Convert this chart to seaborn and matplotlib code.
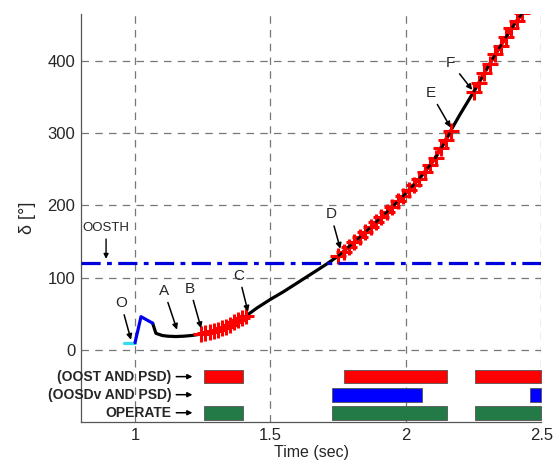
import numpy as np
import pandas as pd
import matplotlib
matplotlib.use("Agg")
import matplotlib.pyplot as plt
import seaborn as sns

sns.set_style("white")
plt.rcParams['font.family'] = ['Liberation Sans', 'DejaVu Sans']

# ---- data ----
cyan_t = [0.96, 1.0]
cyan_d = [10, 10]
blue_t = [1.0, 1.022, 1.065]
blue_d = [10, 46, 37]
black_t = [1.065, 1.077, 1.10, 1.12, 1.15, 1.18, 1.21, 1.245, 1.30, 1.35, 1.41,
           1.45, 1.50, 1.55, 1.60, 1.65, 1.70, 1.75, 1.80, 1.85, 1.90, 1.95,
           2.00, 2.05, 2.10, 2.165, 2.20, 2.25, 2.30, 2.35, 2.40, 2.43]
black_d = [37, 23, 20, 19, 18.5, 19, 20, 22, 28, 36, 47,
           58, 70, 81, 93, 105, 117, 130, 146, 163, 180, 198,
           217, 237, 261, 303, 326, 357, 390, 421, 451, 466]
red1_t = [1.245, 1.26, 1.275, 1.29, 1.305, 1.32, 1.335, 1.35, 1.365, 1.38, 1.395, 1.41]
red1_d = [22, 23, 25, 26, 28, 30, 32, 35, 38, 41, 44, 47]
red2_t = [1.75, 1.77, 1.79, 1.81, 1.83, 1.85, 1.87, 1.89, 1.91, 1.93, 1.95, 1.97,
          1.99, 2.01, 2.03, 2.05, 2.07, 2.09, 2.11, 2.13, 2.15, 2.165]
red2_d = [130, 136, 143, 149, 156, 163, 170, 177, 184, 191, 198, 206,
          213, 221, 229, 237, 247, 256, 266, 279, 291, 303]
red3_t = [2.25, 2.27, 2.29, 2.31, 2.33, 2.35, 2.37, 2.39, 2.41, 2.43]
red3_d = [357, 370, 383, 396, 409, 421, 433, 445, 456, 466]
oosth = 120

# status bars (start, end)
bar_labels = ["(OOST AND PSD)", "(OOSDv AND PSD)", "OPERATE"]
bar_levels = [-37, -62, -87]
oost_spans = [(1.255, 1.40), (1.771, 2.151), (2.255, 2.5)]
oosdv_spans = [(1.727, 2.059), (2.457, 2.5)]
operate_spans = [(1.255, 1.40), (1.727, 2.151), (2.255, 2.5)]
bar_colors = ["#ff0000", "#0000ff", "#237a47"]

xticks = [1, 1.5, 2, 2.5]
xtick_labels = ["1", "1.5", "2", "2.5"]
yticks = [0, 100, 200, 300, 400]

# annotations: (label, text x, text y, tip x, tip y)
notes = [("O", 0.948, 55, 0.985, 14), ("A", 1.107, 72, 1.155, 28),
         ("B", 1.203, 75, 1.244, 30), ("C", 1.384, 93, 1.417, 53),
         ("D", 1.723, 178, 1.758, 140), ("E", 2.092, 346, 2.165, 308),
         ("F", 2.166, 388, 2.245, 360)]

fig = plt.figure(figsize=(5.54, 4.68), dpi=100)
ax = fig.add_axes([0.146, 0.098, 0.831, 0.872])

sns.lineplot(x=black_t, y=black_d, ax=ax, color="black", lw=2.3, sort=False, estimator=None)
for t, d in [(red1_t, red1_d), (red2_t, red2_d), (red3_t, red3_d)]:
    sns.lineplot(x=t, y=d, ax=ax, color="red", lw=2.2, marker="+", markersize=11.5,
                 markeredgewidth=2.2, markeredgecolor="red", sort=False, estimator=None)
for t, d in [(red2_t, red2_d), (red3_t, red3_d)]:
    sns.lineplot(x=t, y=d, ax=ax, color="black", lw=1.8, sort=False, estimator=None,
                 linestyle=(0, (2, 3)))
sns.lineplot(x=cyan_t, y=cyan_d, ax=ax, color="#33ddee", lw=2.3, sort=False, estimator=None)
sns.lineplot(x=blue_t, y=blue_d, ax=ax, color="#0000ee", lw=2.3, sort=False, estimator=None)

ax.axhline(oosth, color="#0000dd", lw=2.3, linestyle=(0, (6, 2, 1.5, 2)), zorder=3)

for spans, lvl, col in zip([oost_spans, oosdv_spans, operate_spans], bar_levels, bar_colors):
    for a, b in spans:
        ax.fill_between([a, b], lvl - 9.5, lvl + 9.5, color=col, edgecolor="#555555",
                        lw=0.6, zorder=4)

for lab, lvl in zip(bar_labels, bar_levels):
    ax.annotate(lab, xy=(1.212, lvl), xytext=(1.135, lvl), ha="right", va="center",
                fontsize=10, fontweight="bold",
                arrowprops=dict(arrowstyle="-|>", color="black", lw=1.1,
                                mutation_scale=7, shrinkA=1, shrinkB=0))

ax.annotate("OOSTH", xy=(0.893, 126), xytext=(0.893, 160), ha="center", va="bottom",
            fontsize=9.5, arrowprops=dict(arrowstyle="-|>", color="black", lw=1.0,
                                         mutation_scale=7, shrinkA=1, shrinkB=0))
for lab, tx, ty, px, py in notes:
    ax.annotate(lab, xy=(px, py), xytext=(tx, ty), ha="center", va="bottom",
                fontsize=11, arrowprops=dict(arrowstyle="-|>", color="black", lw=1.1,
                                            mutation_scale=8, shrinkA=1, shrinkB=0))

ax.set_xlim(0.8, 2.5)
ax.set_ylim(-100, 465)
ax.set_xticks(xticks)
ax.set_xticklabels(xtick_labels)
ax.set_yticks(yticks)
ax.tick_params(labelsize=12, length=0, pad=4)
ax.set_xlabel("Time (sec)", fontsize=11.5, labelpad=2)
ax.set_ylabel("δ [°]", fontsize=13, labelpad=8)
ax.grid(True, color="#777777", linestyle=(0, (6, 5)), lw=0.9)
for s in ["top", "right"]:
    ax.spines[s].set_visible(False)
for s in ["left", "bottom"]:
    ax.spines[s].set_color("#555555")
    ax.spines[s].set_linewidth(0.9)

fig.savefig("out.png", dpi=100)
